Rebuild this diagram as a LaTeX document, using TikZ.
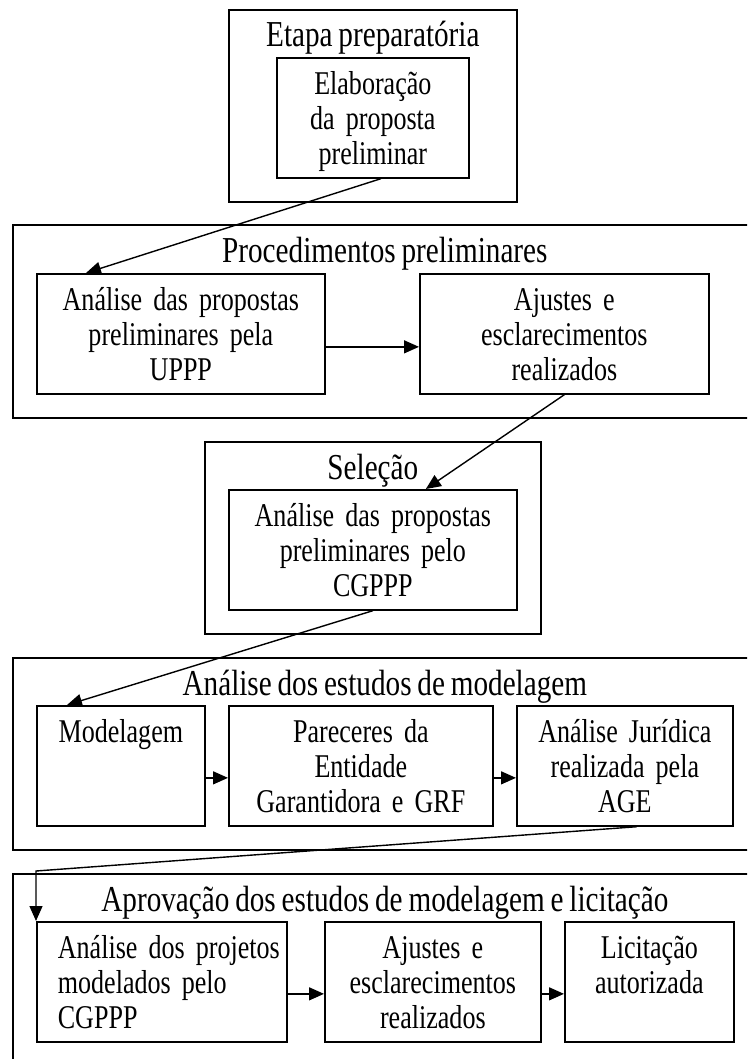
\documentclass[tikz,border=0pt]{standalone}
\usepackage{fontspec}
\setmainfont{Liberation Serif}[FakeStretch=0.8, WordSpace=0.8]
\newfontfamily\caixafont{Liberation Serif}[FakeStretch=0.785, WordSpace=0.75]
\usetikzlibrary{arrows.meta}

\begin{document}
\begin{tikzpicture}[x=1pt, y=-1pt,
  fase/.style={draw, line width=1.7pt, anchor=north west, inner sep=0pt, minimum height=192pt},
  titulo/.style={anchor=base, font=\fontsize{36.5}{36}\selectfont},
  caixa/.style={draw, line width=1.7pt, anchor=north west, inner sep=0pt, align=center,
    text height=37pt, text depth=83pt, font=\caixafont\fontsize{33.2}{35}\selectfont},
  recuo/.style={align=left, execute at begin node={\leftskip=21pt}},
  seta/.style={-{Triangle[length=15pt,width=13pt]}, line width=1.4pt}]
\useasboundingbox (0,0) rectangle (747,1059);
\clip (0,0) rectangle (747,1059);
\fill[white] (0,0) rectangle (747,1059);
\node[fase, minimum width=288pt] (f1) at (228,9) {};
\node[fase, minimum width=744pt, minimum height=193pt] (f2) at (12,224) {};
\node[fase, minimum width=336pt] (f3) at (204,441) {};
\node[fase, minimum width=744pt] (f4) at (12,657) {};
\node[fase, minimum width=744pt, minimum height=240pt] (f5) at (12,873) {};
\node[titulo] (t1) at ([yshift=-38pt]f1.north) {Etapa preparatória};
\node[titulo] (t2) at ([yshift=-38pt]f2.north) {Procedimentos preliminares};
\node[titulo] (t3) at ([yshift=-38pt]f3.north) {Seleção};
\node[titulo] (t4) at ([yshift=-38pt]f4.north) {Análise dos estudos de modelagem};
\node[titulo] (t5) at ([yshift=-38pt]f5.north) {Aprovação dos estudos de modelagem e licitação};
\node[caixa, text width=192pt] (elab) at (276,57) {Elaboração\\da proposta\\preliminar};
\node[caixa, text width=288pt] (uppp) at (36,273) {Análise das propostas\\preliminares pela\\UPPP};
\node[caixa, text width=289pt] (ajusteA) at (419,273) {Ajustes e\\esclarecimentos\\realizados};
\node[caixa, text width=288pt] (cgppp) at (228,489) {Análise das propostas\\preliminares pelo\\CGPPP};
\node[caixa, text width=168pt] (model) at (36,705) {Modelagem};
\node[caixa, text width=264pt] (parec) at (228,705) {Pareceres da\\Entidade\\Garantidora e GRF};
\node[caixa, text width=216pt] (jurid) at (516,705) {Análise Jurídica\\realizada pela\\AGE};
\node[caixa, recuo, text width=250pt] (proj) at (36,921) {Análise dos projetos\\modelados pelo\\CGPPP};
\node[caixa, text width=216pt] (ajusteB) at (324,921) {Ajustes e\\esclarecimentos\\realizados};
\node[caixa, text width=169pt] (licit) at (564,921) {Licitação\\autorizada};
\coordinate (dobra) at (36,871);
\draw[seta] ([xshift=8pt]elab.south) -- ([xshift=50pt]uppp.north west);
\draw[seta] ([yshift=-13pt]uppp.east) -- ([yshift=-13pt]ajusteA.west);
\draw[seta] (ajusteA.south) -- ([xshift=53pt]cgppp.north);
\draw[seta] (cgppp.south) -- ([xshift=31pt]model.north west);
\draw[seta] ([yshift=-12pt]model.east) -- ([yshift=-12pt]parec.west);
\draw[seta] ([yshift=-12pt]parec.east) -- ([yshift=-12pt]jurid.west);
\draw[seta] ([xshift=12pt]jurid.south) -- (dobra) -- (proj.north west);
\draw[seta] ([yshift=-12pt]proj.east) -- ([yshift=-12pt]ajusteB.west);
\draw[seta] ([yshift=-12pt]ajusteB.east) -- ([yshift=-12pt]licit.west);
\end{tikzpicture}
\end{document}
